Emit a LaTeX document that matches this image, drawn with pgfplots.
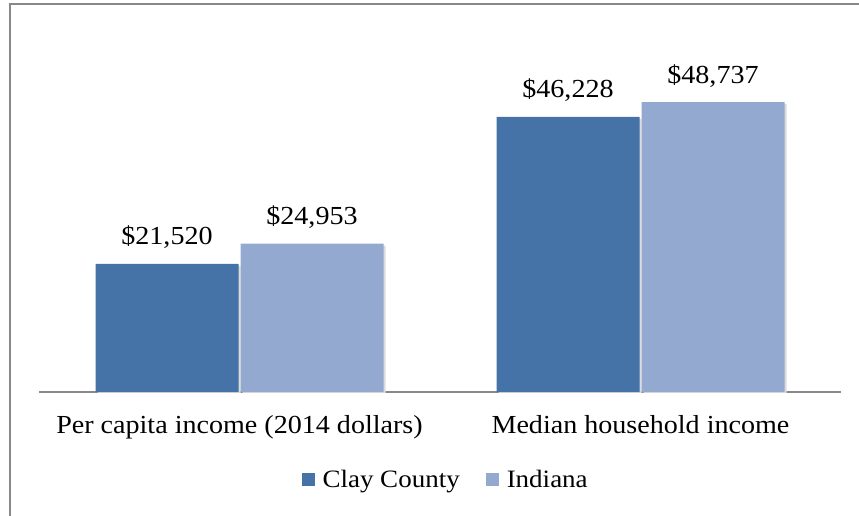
\documentclass[border=0pt]{standalone}
\usepackage{fontspec}
\setmainfont[FakeStretch=1.08]{Liberation Serif}
\usepackage{pgfplots}
\pgfplotsset{compat=1.18}
\definecolor{clay}{RGB}{69,114,167}
\definecolor{indiana}{RGB}{147,169,207}
\definecolor{framegray}{RGB}{136,136,136}

% square legend key in a given colour (basic layer, so no bar shadow on it)
\pgfplotsset{
    sqkey/.style={legend image code/.code={%
        \pgfsetfillcolor{#1}%
        \pgfpathrectangle{\pgfpoint{0bp}{-6.5bp}}{\pgfpoint{13bp}{13bp}}%
        \pgfusepath{fill}%
        \pgfpathrectangle{\pgfpoint{0bp}{-1bp}}{\pgfpoint{19bp}{2bp}}%
        \pgfusepath{}}},
    barshadow/.style={preaction={fill=black!14, transform canvas={xshift=2bp, yshift=-2bp}}},
}

\begin{document}
\begin{tikzpicture}
\useasboundingbox (-39bp,-124bp) rectangle (820bp,392bp);
\draw[framegray, line width=1.5bp] (-29bp,-124bp) -- (-29bp,388bp) -- (820bp,388bp);
\begin{axis}[
    scale only axis,
    width=802bp, height=357bp,
    ybar=2bp, bar width=143bp,
    xmin=-0.5, xmax=1.5, ymin=0, ymax=60000,
    axis y line=none,
    axis x line*=bottom,
    x axis line style={framegray, line width=1.5bp, -},
    xtick={0,1},
    xticklabels={Per capita income (2014 dollars), Median household income},
    major tick length=0pt,
    xticklabel style={anchor=base, yshift=-41bp, font=\fontsize{26bp}{30bp}\selectfont},
    nodes near coords={\$\pgfmathprintnumber[assume math mode=true,fixed,1000 sep={,}]{\pgfplotspointmeta}},
    nodes near coords style={anchor=base, yshift=19bp, font=\fontsize{26bp}{30bp}\selectfont},
    legend columns=2,
    legend style={draw=none, at={(0.507,-0.246)}, anchor=center,
        font=\fontsize{25bp}{29bp}\selectfont,
        /tikz/every even column/.append style={column sep=24bp}},
]
\addplot[fill=clay, draw=none, barshadow, sqkey=clay] coordinates {(0,21520) (1,46228)};
\addplot[fill=indiana, draw=none, barshadow, sqkey=indiana] coordinates {(0,24953) (1,48737)};
\legend{Clay County, Indiana}
\end{axis}
\end{tikzpicture}
\end{document}
